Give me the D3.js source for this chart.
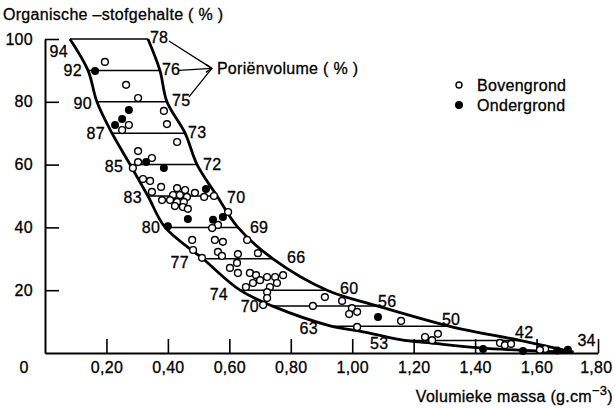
<!DOCTYPE html>
<html>
<head>
<meta charset="utf-8">
<script src="https://cdn.jsdelivr.net/npm/d3@7"></script>
<style>
body { margin: 0; background: #fff; }
svg text { font-family: "Liberation Sans", Arial, sans-serif; fill: #000; stroke: #000; stroke-width: 0.3px; letter-spacing: 0.3px; }
</style>
</head>
<body>
<svg width="615" height="408"></svg>
<script>
// iso-lines: organic matter (%) with bulk density at left / right boundary
const levels    = [100, 90, 80, 70, 60, 50, 40, 30, 20, 15, 8.5, 4, 0.3];
const leftBD    = [0.081, 0.140, 0.169, 0.218, 0.277, 0.335, 0.391, 0.514, 0.635, 0.739, 0.934, 1.17, 1.72];
const rightBD   = [0.335, 0.374, 0.397, 0.456, 0.495, 0.560, 0.628, 0.742, 0.918, 1.081, 1.318, 1.546, 1.72];
const leftPore  = ['94', '92', '90', '87', '85', '83', '80', '77', '74', '70', '63', '53', ''];
const rightPore = ['78', '76', '75', '73', '72', '70', '69', '66', '60', '56', '50', '42', '34'];

// extra points on the lower boundary near the x-axis
const lowerBD = [1.025, 1.244, 1.416, 1.611];
const lowerOM = [7, 3.3, 1.6, 0.6];

// Bovengrond (open circles)
const bovenBD = [0.195,0.264,0.303,0.387,0.397,0.273,0.251,0.430,0.303,0.303,0.348,0.286,0.319,0.342,0.378,0.348,
  0.381,0.430,0.456,0.417,0.439,0.462,0.488,0.407,0.430,0.452,0.423,0.449,0.465,0.518,0.550,0.596,0.563,0.544,
  0.479,0.553,0.579,0.658,0.482,0.563,0.576,0.693,0.628,0.511,0.625,0.602,0.628,0.667,0.687,0.723,0.749,0.775,
  0.677,0.700,0.732,0.755,0.654,0.723,0.723,0.710,0.911,0.872,0.967,0.999,1.016,0.990,1.159,1.016,1.237,1.260,
  1.279,1.481,1.497,1.517,1.628,1.611];
const bovenOM = [92.7,85.4,81.2,77.1,72.9,72.6,71.0,67.2,64.3,60.8,62.1,58.9,55.4,54.8,52.9,51.3,
  48.7,52.5,51.9,50.3,50.3,49.7,51.0,48.7,48.1,48.1,46.8,46.5,45.9,49.7,50.0,44.9,40.8,39.8,
  36.0,36.0,35.4,36.0,32.8,32.2,30.9,31.8,31.5,30.3,28.7,27.1,25.5,25.5,24.8,24.2,24.2,24.8,
  22.3,23.2,21.0,22.3,21.0,19.4,17.5,15.3,17.8,15.0,16.6,14.3,13.1,12.4,10.2,8.3,5.1,4.1,
  6.1,3.2,2.5,2.9,1.3,1.0];

// Ondergrond (filled circles)
const onderBD = [0.163,0.273,0.251,0.228,0.329,0.387,0.524,0.465,0.400,0.579,0.547,1.084,1.426,1.556,1.702,1.667];
const onderOM = [89.8,77.4,74.5,72.6,60.8,58.9,52.2,42.7,40.4,43.3,42.4,11.5,1.3,0.6,1.0,0.8];

const xTicks = [0.2, 0.4, 0.6, 0.8, 1.0, 1.2, 1.4, 1.6, 1.8];
const yTicks = [20, 40, 60, 80, 100];

// label nudges (px) for the pore volume numbers
const rightOff = [[2,-2],[2,-1],[5,-1],[3,-1],[6,0],[10,1],[12,0],[14,-1],[13,-2],[1,-5],[-8,-7],[-5,-8],[4,-12]];
const leftOff  = [[-2,12],[-6,0],[-5,2],[-7,0],[-7,2],[-6,1],[-5,0],[-14,4],[-12,4],[-13,0],[-14,2],[-16,3],[0,0]];

const svg = d3.select('svg');
const fs = 16;

const x = d3.scaleLinear().domain([0, 1.8]).range([45, 598]);
const y = d3.scaleLinear().domain([0, 100]).range([353, 39]);

// axes
const fmt = d => d3.format('.2f')(d).replace('.', ',');
const xAxis = svg.append('g')
    .attr('transform', `translate(0,${y(0)})`)
    .call(d3.axisBottom(x).tickValues(xTicks).tickFormat(fmt)
        .tickSize(-14).tickSizeOuter(0).tickPadding(9));
const yAxis = svg.append('g')
    .attr('transform', `translate(${x(0)},0)`)
    .call(d3.axisLeft(y).tickValues(yTicks)
        .tickSize(-14).tickSizeOuter(0).tickPadding(12));
[xAxis, yAxis].forEach(g => {
    g.select('.domain').attr('stroke-width', 2);
    g.selectAll('.tick line').attr('stroke-width', 1.6);
    g.selectAll('text').attr('font-size', fs).attr('font-family', null);
});
xAxis.selectAll('.tick:last-of-type text').attr('text-anchor', 'end').attr('dx', 14);
svg.append('text').attr('x', 24).attr('y', y(0) + 9).attr('dy', '0.71em')
    .attr('text-anchor', 'middle').attr('font-size', fs).text('0');

// iso-lines
const rows = levels.map((v, i) => ({om: v, l: leftBD[i], r: rightBD[i], lp: leftPore[i], rp: rightPore[i], i}));
svg.append('g').selectAll('line')
    .data(rows.filter(d => d.l < d.r))
    .join('line')
    .attr('x1', d => x(d.l)).attr('x2', d => x(d.r))
    .attr('y1', d => y(d.om)).attr('y2', d => y(d.om))
    .attr('stroke', '#000').attr('stroke-width', 1.5);

// boundaries
const line = d3.line().x(d => x(d[0])).y(d => y(d[1])).curve(d3.curveCatmullRom);
const upperPts = rows.map(d => [d.r, d.om]);
const lowerPts = rows.map(d => [d.l, d.om])
    .concat(lowerBD.map((b, i) => [b, lowerOM[i]]))
    .sort((a, b) => d3.descending(a[1], b[1]));
svg.append('path').attr('d', line(upperPts))
    .attr('fill', 'none').attr('stroke', '#000').attr('stroke-width', 2.8);
svg.append('path').attr('d', line(lowerPts))
    .attr('fill', 'none').attr('stroke', '#000').attr('stroke-width', 2.8);

// pore volume labels
const labG = svg.append('g').attr('font-size', fs);
labG.selectAll('text.r').data(rows).join('text').attr('class', 'r')
    .attr('x', d => x(d.r) + rightOff[d.i][0])
    .attr('y', d => y(d.om) + rightOff[d.i][1])
    .attr('dy', '0.35em').text(d => d.rp);
labG.selectAll('text.l').data(rows).join('text').attr('class', 'l')
    .attr('text-anchor', 'end')
    .attr('x', d => x(d.l) + leftOff[d.i][0])
    .attr('y', d => y(d.om) + leftOff[d.i][1])
    .attr('dy', '0.35em').text(d => d.lp);

// leader lines to "Poriënvolume"
const tip = [x(rightBD[1]) + 52, y(levels[1]) - 2];
const starts = [
    [x(rightBD[0]) + 21, y(levels[0]) + 2],
    [x(rightBD[1]) + 19, y(levels[1])],
    [x(rightBD[2]) + 22, y(levels[2]) - 5]
];
svg.append('g').selectAll('line').data(starts).join('line')
    .attr('x1', d => d[0]).attr('y1', d => d[1])
    .attr('x2', tip[0]).attr('y2', tip[1])
    .attr('stroke', '#000').attr('stroke-width', 1.3);
svg.append('path')
    .attr('d', `M${tip[0] - 6},${tip[1] - 4}L${tip[0]},${tip[1]}L${tip[0] - 6},${tip[1] + 4}`)
    .attr('fill', 'none').attr('stroke', '#000').attr('stroke-width', 1.3);
svg.append('text').attr('x', tip[0] + 5).attr('y', tip[1]).attr('dy', '0.35em')
    .attr('font-size', fs).text('Poriënvolume ( % )');

// points
svg.append('g').selectAll('circle')
    .data(bovenBD.map((b, i) => [b, bovenOM[i]]))
    .join('circle')
    .attr('cx', d => x(d[0])).attr('cy', d => y(d[1])).attr('r', 3.4)
    .attr('fill', '#fff').attr('stroke', '#000').attr('stroke-width', 1.4);
svg.append('g').selectAll('circle')
    .data(onderBD.map((b, i) => [b, onderOM[i]]))
    .join('circle')
    .attr('cx', d => x(d[0])).attr('cy', d => y(d[1])).attr('r', 4)
    .attr('fill', '#000');

// legend
const leg = svg.append('g').attr('transform', 'translate(459,85)');
leg.append('circle').attr('r', 3).attr('fill', '#fff').attr('stroke', '#000').attr('stroke-width', 1.4);
leg.append('circle').attr('cy', 20).attr('r', 4).attr('fill', '#000');
leg.append('text').attr('x', 18).attr('dy', '0.35em').attr('font-size', fs).text('Bovengrond');
leg.append('text').attr('x', 18).attr('y', 20).attr('dy', '0.35em').attr('font-size', fs).text('Ondergrond');

// titles
svg.append('text').attr('x', 3).attr('y', 20).attr('font-size', fs)
    .text('Organische –stofgehalte ( % )');
const xt = svg.append('text').attr('x', 613).attr('y', 402).attr('text-anchor', 'end').attr('font-size', fs);
xt.append('tspan').text('Volumieke massa (g.cm');
xt.append('tspan').attr('dy', -7).attr('font-size', 13).text('−3');
xt.append('tspan').attr('dy', 7).text(')');
</script>
</body>
</html>
